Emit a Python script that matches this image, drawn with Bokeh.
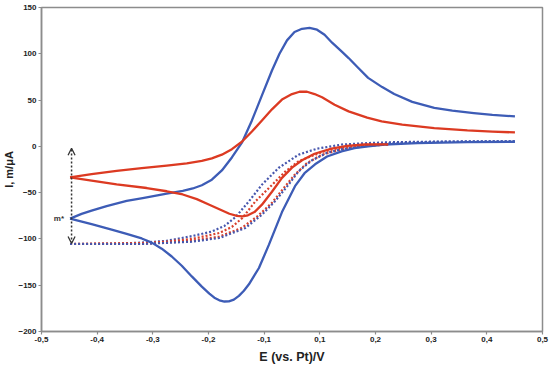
from bokeh.plotting import figure
from bokeh.models import FixedTicker, CustomJSTickFormatter, Arrow, OpenHead, Label, Range1d
from bokeh.embed import file_html
from bokeh.resources import INLINE

# ---- axes ----
x_ticks = [-0.5, -0.38889, -0.27778, -0.16667, -0.05556, 0.05556, 0.16667, 0.27778, 0.38889, 0.5]
x_tick_labels = ["-0,5", "-0,4", "-0,3", "-0,2", "-0,1", "0,1", "0,2", "0,3", "0,4", "0,5"]
y_ticks = [-200, -150, -100, -50, 0, 50, 100, 150]

# ---- blue CV (solid) ----
blue_up_E = [-0.443, -0.42, -0.40, -0.37, -0.33, -0.298, -0.25, -0.218, -0.198, -0.18, -0.16, -0.14, -0.12,
             -0.10, -0.08, -0.06, -0.04, -0.025, -0.01, 0.005, 0.02, 0.035, 0.05, 0.065, 0.08, 0.10, 0.113, 0.13,
             0.152, 0.18, 0.204, 0.24, 0.284, 0.32, 0.363, 0.40, 0.445]
blue_up_I = [-78, -73, -69.5, -64.5, -59, -55.8, -51, -48, -45.5, -42, -36, -26, -12,
             4, 28, 55, 82, 100, 114.5, 123.5, 127, 128, 126, 120.5, 112, 102, 95.4, 86,
             74, 64, 56.5, 48, 41.5, 38.5, 36, 34, 32.4]
blue_dn_E = [-0.443, -0.40, -0.36, -0.33, -0.30, -0.28, -0.26, -0.24, -0.22, -0.20, -0.18, -0.165,
             -0.155, -0.145, -0.135, -0.126, -0.116, -0.106, -0.096, -0.086, -0.066, -0.046, -0.02,
             0.006, 0.025, 0.046, 0.07, 0.099, 0.125, 0.152, 0.185, 0.25, 0.35, 0.445]
blue_dn_I = [-78, -84, -90, -94.5, -99.5, -104, -110.5, -119, -129, -140.5, -151.5, -159,
             -163.5, -166.3, -167.6, -167.4, -165.5, -161.5, -156, -149, -131.4, -106.2, -71,
             -43, -29, -19.4, -11, -5.4, -2, 0, 2, 3.5, 4.5, 5]

# ---- red CV (solid) ----
red_up_E = [-0.443, -0.40, -0.35, -0.30, -0.25, -0.21, -0.18, -0.16, -0.14, -0.12, -0.10, -0.08, -0.06,
            -0.04, -0.02, 0.0, 0.015, 0.03, 0.045, 0.06, 0.085, 0.113, 0.15, 0.179, 0.22, 0.284, 0.35,
            0.40, 0.445]
red_up_I = [-33.5, -30, -26.5, -23.5, -20.8, -18.3, -15.8, -13, -9, -3, 5, 16, 28,
            40, 50.5, 56.5, 59, 59, 56.5, 53, 45, 37.8, 31, 27, 23.5, 19.8, 17.2,
            16, 15]
red_dn_E = [-0.443, -0.40, -0.35, -0.29, -0.25, -0.218, -0.19, -0.165, -0.145, -0.125, -0.11, -0.099,
            -0.088, -0.075, -0.06, -0.04, -0.02, 0.0, 0.02, 0.045, 0.079, 0.11, 0.145, 0.192]
red_dn_I = [-33.5, -37, -41, -45, -48.5, -52, -57, -63, -68, -72.8, -75, -75.6,
            -74.5, -71, -63, -49, -34, -23, -15, -8, -2.5, 0.5, 2, 2.2]

# ---- dotted sweeps ----
blueA_E = [-0.443, -0.35, -0.30, -0.25, -0.20, -0.16, -0.135, -0.112, -0.086, -0.06, -0.027, 0.013,
           0.05, 0.10, 0.15, 0.20, 0.30, 0.445]
blueA_I = [-105.5, -105, -104, -102, -97, -92, -86, -76, -59.4, -41.4, -23.4, -9,
           -2.5, 2, 3.5, 4.5, 5.2, 5.5]
redB_E = [-0.443, -0.30, -0.25, -0.20, -0.145, -0.12, -0.099, -0.073, -0.046, -0.013, 0.013, 0.06, 0.10,
          0.15, 0.192]
redB_I = [-105.5, -104.5, -103, -100, -93.6, -87, -77.4, -59.4, -45, -27, -16.2, -6, -1, 1.5, 2.2]
redD_E = [-0.443, -0.30, -0.20, -0.145, -0.10, -0.07, -0.04, -0.015, 0.005, 0.03, 0.06, 0.10, 0.15, 0.192]
redD_I = [-105.5, -105.3, -102, -97.5, -88, -76, -61, -44, -31, -18, -9, -3, 0.5, 2]
blueC_E = [-0.443, -0.30, -0.20, -0.145, -0.093, -0.06, -0.034, -0.007, 0.013, 0.04, 0.07, 0.10,
           0.15, 0.20, 0.30, 0.445]
blueC_I = [-105.5, -105.5, -103, -99, -88.2, -73.8, -59.4, -41.4, -27, -15, -7, -3,
           1, 3.5, 5, 5.5]

# ---- annotation ----
arrow_E = -0.44
arrow_I_bottom = -105
arrow_I_top = -2
mstar_E = -0.443
mstar_I = -78

BLUE = "#3d5cb6"
RED = "#dc3a22"
DOT_BLUE = "#4656ad"
DOT_RED = "#d8402c"
FONT = "Liberation Sans"

p = figure(width=549, height=366, output_backend="svg", toolbar_location=None,
           x_range=Range1d(-0.5, 0.5), y_range=Range1d(-200, 150),
           min_border_left=30, min_border_right=7, min_border_top=7, min_border_bottom=34)
p.background_fill_color = "white"
p.border_fill_color = "white"
p.xgrid.visible = False
p.ygrid.visible = False
p.outline_line_color = "#8c8c8c"
p.outline_line_width = 1.5

for ax in (p.xaxis[0], p.yaxis[0]):
    ax.axis_line_color = "#8c8c8c"
    ax.axis_line_width = 1.5
    ax.major_tick_line_color = "#8c8c8c"
    ax.major_tick_line_width = 1.2
    ax.major_tick_out = 3
    ax.major_tick_in = 0
    ax.minor_tick_line_color = None
    ax.major_label_text_font = FONT
    ax.major_label_text_font_style = "bold"
    ax.major_label_text_font_size = "8px"
    ax.major_label_text_color = "#222222"
    ax.axis_label_text_font = FONT
    ax.axis_label_text_font_style = "bold"
    ax.axis_label_text_color = "#222222"

p.xaxis.ticker = FixedTicker(ticks=x_ticks)
p.xaxis.formatter = CustomJSTickFormatter(args=dict(xt=x_ticks, xl=x_tick_labels), code="""
let b = 0;
for (let i = 0; i < xt.length; i++) { if (Math.abs(xt[i] - tick) < Math.abs(xt[b] - tick)) b = i; }
return xl[b];
""")
p.xaxis.major_label_standoff = 2
p.xaxis.axis_label = "E (vs. Pt)/V"
p.xaxis.axis_label_text_font_size = "12.5px"
p.xaxis.axis_label_standoff = 5

p.yaxis.ticker = FixedTicker(ticks=y_ticks)
p.yaxis.major_label_standoff = 2
p.yaxis.axis_label = "I, m/\u03bcA"
p.yaxis.axis_label_text_font_size = "11px"
p.yaxis.axis_label_standoff = 0

dash = "2 2"
p.line(blueA_E, blueA_I, line_color=DOT_BLUE, line_width=2.2, line_dash=dash)
p.line(redB_E, redB_I, line_color=DOT_RED, line_width=2.2, line_dash=dash)
p.line(redD_E, redD_I, line_color=DOT_RED, line_width=2.2, line_dash=dash)
p.line(blueC_E, blueC_I, line_color=DOT_BLUE, line_width=2.2, line_dash=dash)

p.line(blue_up_E, blue_up_I, line_color=BLUE, line_width=2.3, line_join="round")
p.line(blue_dn_E, blue_dn_I, line_color=BLUE, line_width=2.3, line_join="round")
p.line(red_up_E, red_up_I, line_color=RED, line_width=2.3, line_join="round")
p.line(red_dn_E, red_dn_I, line_color=RED, line_width=2.3, line_join="round")

head = dict(size=7, line_color="#333333", line_width=1.3)
p.add_layout(Arrow(start=OpenHead(**head), end=OpenHead(**head),
                   x_start=arrow_E, y_start=arrow_I_bottom, x_end=arrow_E, y_end=arrow_I_top,
                   line_color="#333333", line_width=1.5, line_dash="2 2"))
p.add_layout(Label(x=mstar_E, y=mstar_I, text="m*", x_offset=-6, text_align="right",
                   text_baseline="middle", text_font=FONT, text_font_style="bold",
                   text_font_size="8px", text_color="#333333"))

open("out.html", "w").write(file_html(p, INLINE))
